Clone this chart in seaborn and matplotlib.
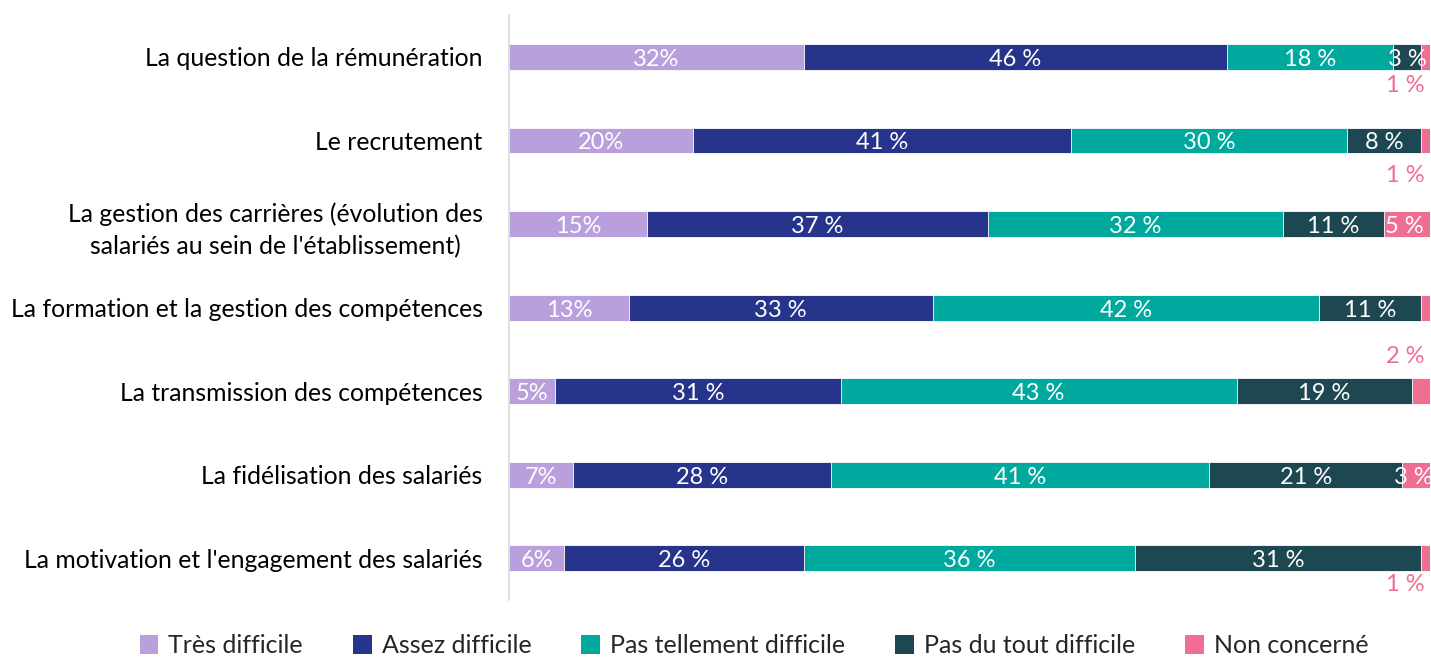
import numpy as np
import pandas as pd
import seaborn as sns
import matplotlib.pyplot as plt
from matplotlib.patches import Patch

sns.set_style('white')
plt.rcParams['font.family'] = ['Lato', 'DejaVu Sans']

# données
categories = ['La question de la rémunération',
              'Le recrutement',
              "La gestion des carrières (évolution des\nsalariés au sein de l'établissement)",
              'La formation et la gestion des compétences',
              'La transmission des compétences',
              'La fidélisation des salariés',
              "La motivation et l'engagement des salariés"]
series = ['Très difficile', 'Assez difficile', 'Pas tellement difficile',
          'Pas du tout difficile', 'Non concerné']
tres = [32, 20, 15, 13, 5, 7, 6]
assez = [46, 41, 37, 33, 31, 28, 26]
pas_tellement = [18, 30, 32, 42, 43, 41, 36]
pas_du_tout = [3, 8, 11, 11, 19, 21, 31]
non_concerne = [1, 1, 5, 1, 2, 3, 1]

colors = ['#B9A0DC', '#27348B', '#00A99D', '#1E4851', '#EE6F92']
# position de l'étiquette "Non concerné" : décalage vertical, 0 = dans la barre, None = pas d'étiquette
nc_offset = [0.34, 0.42, 0, None, -0.42, 0, 0.31]

vals = np.array([tres, assez, pas_tellement, pas_du_tout, non_concerne], dtype=float).T
cum = vals.cumsum(axis=1)

fig = plt.figure(figsize=(14.31, 6.6), dpi=100)
ax = fig.add_axes([0.3557, 0.091, 0.6436, 0.886])

# barres empilées : on trace les cumuls du plus long au plus court
for i in reversed(range(5)):
    df = pd.DataFrame({'cat': categories, 'val': cum[:, i]})
    sns.barplot(data=df, x='val', y='cat', orient='h', color=colors[i],
                width=0.31, edgecolor='white', linewidth=0.6, ax=ax,
                saturation=1)

fs = 17.8
fs_bar = 17
for r in range(len(categories)):
    for i in range(4):
        v = vals[r, i]
        center = cum[r, i] - v / 2
        txt = f'{int(v)}%' if i == 0 else f'{int(v)} %'
        ax.text(center, r + 0.03, txt, color='white', ha='center', va='center', fontsize=fs_bar)
    off = nc_offset[r]
    v = vals[r, 4]
    if off is None:
        continue
    if off == 0:
        ax.text(cum[r, 4] - v / 2 - 0.3, r + 0.03, f'{int(v)} %', color='white',
                ha='center', va='center', fontsize=fs_bar)
    else:
        ax.text(99.4, r + off, f'{int(v)} %', color=colors[4],
                ha='right', va='center', fontsize=fs_bar)

ax.set_xlim(0, 100)
ax.set_ylim(6.5, -0.5)
ax.set_xlabel('')
ax.set_ylabel('')
ax.set_xticks([])
for s in ['top', 'right', 'bottom']:
    ax.spines[s].set_visible(False)
ax.spines['left'].set_color('#D9D9D9')
ax.spines['left'].set_linewidth(1.2)
ax.tick_params(axis='y', length=0, pad=19, labelsize=fs, labelcolor='black')
for lab in ax.get_yticklabels():
    lab.set_multialignment('center')
    lab.set_linespacing(1.45)

handles = [Patch(facecolor=c, edgecolor='none') for c in colors]
fig.legend(handles, series, loc='lower center', bbox_to_anchor=(0.527, -0.03), ncol=5,
           frameon=False, fontsize=18, handlelength=0.75, handleheight=0.75,
           handletextpad=0.4, columnspacing=2.0)

fig.savefig('out.png', dpi=100)
